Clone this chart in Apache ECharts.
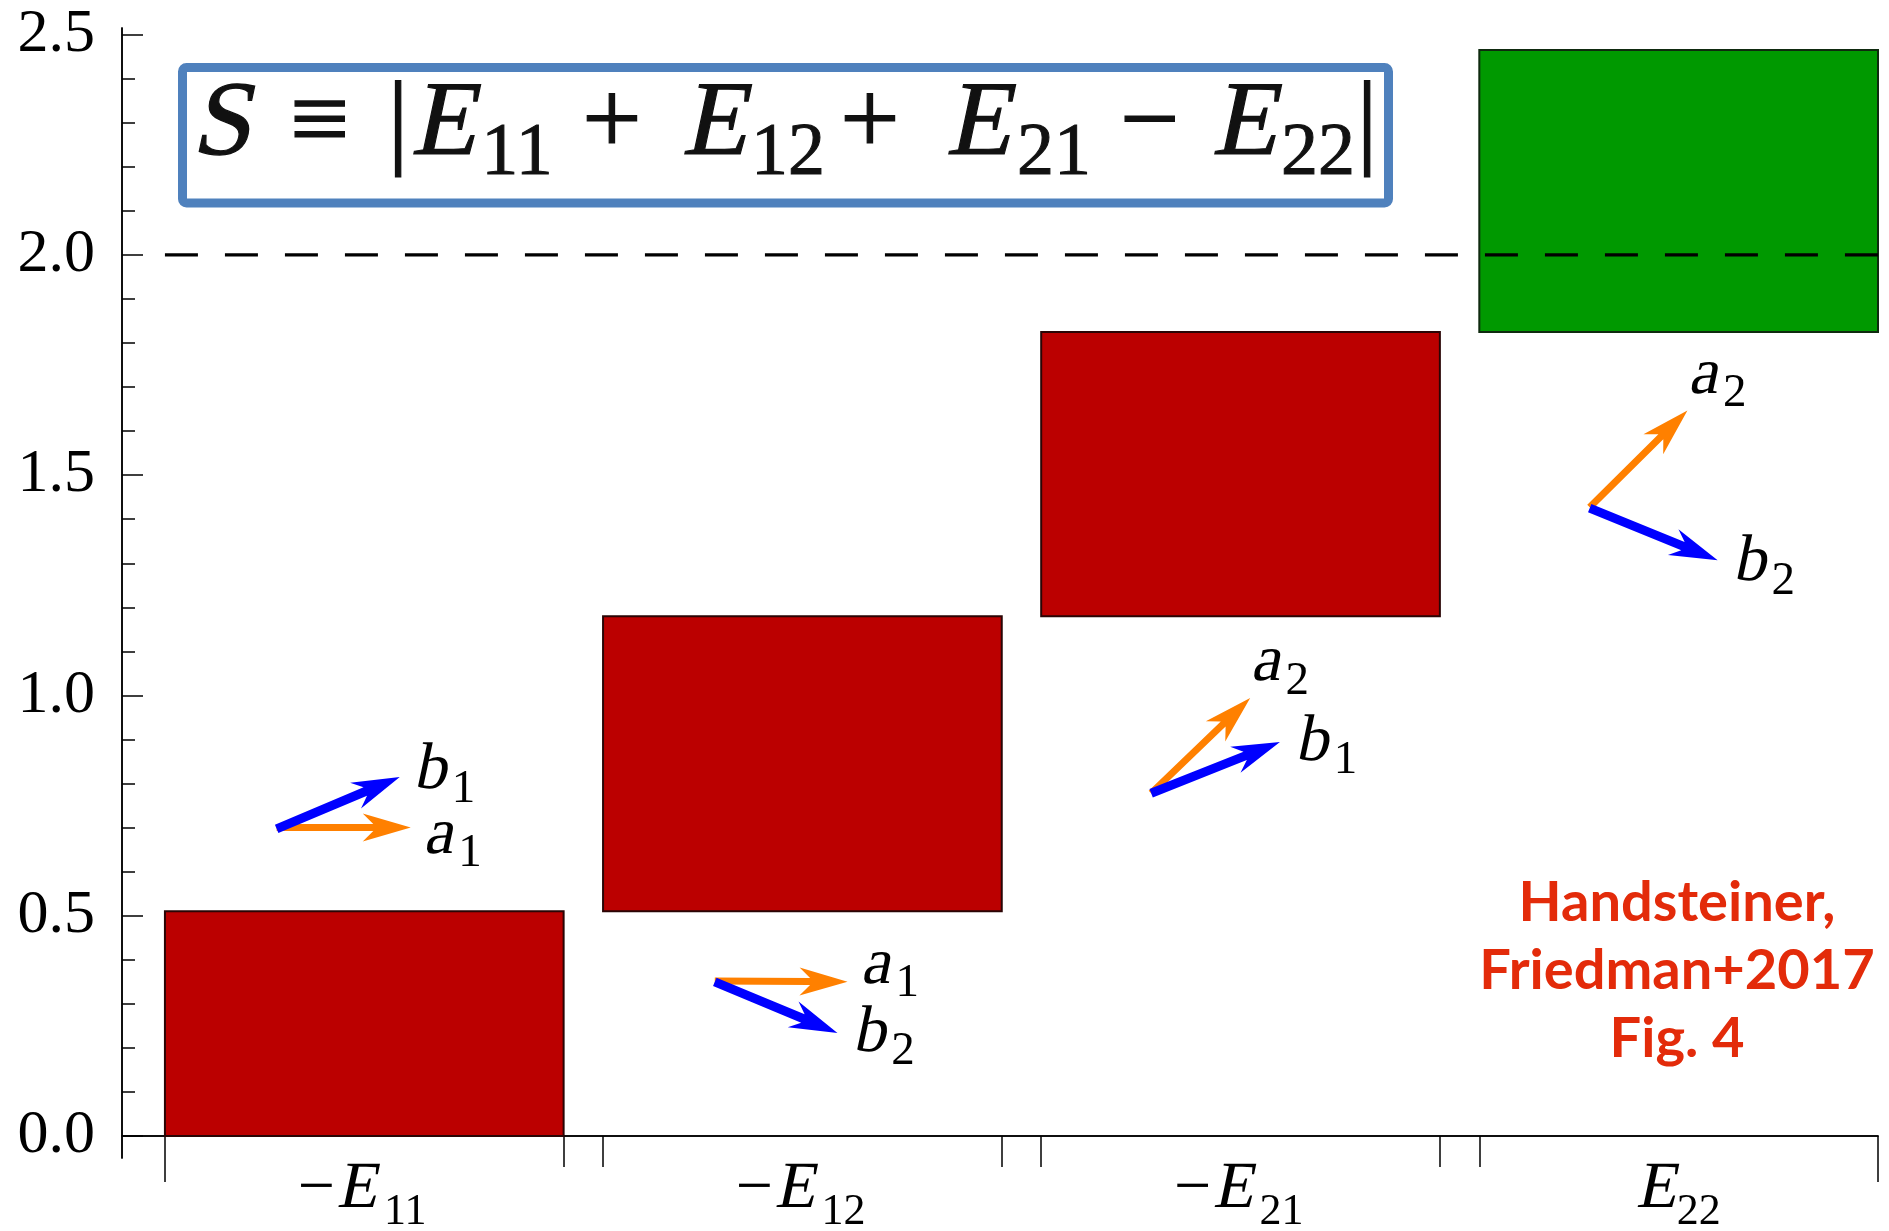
<!DOCTYPE html>
<html>
<head>
<meta charset="utf-8">
<script src="https://cdn.jsdelivr.net/npm/echarts@6/dist/echarts.min.js"></script>
<style>
  html, body { margin: 0; padding: 0; background: #ffffff; }
  #chart { width: 1889px; height: 1231px; }
</style>
</head>
<body>
<div id="chart"></div>
<script>
// Correlator terms of the CHSH sum, drawn as a cumulative (waterfall) bar chart
const categorySign  = ['−', '−', '−', ''];
const categoryIndex = ['11', '12', '21', '22'];
const barLow  = [0.00, 0.51, 1.18, 1.825];
const barHigh = [0.51, 1.18, 1.825, 2.465];

// Local-realist bound on S
const classicalBound = 2.0;

// Value-axis ticks
const yMajorTicks = [0, 0.5, 1.0, 1.5, 2.0, 2.5];
const yMinorTicks = [0, 0.1, 0.2, 0.3, 0.4, 0.5, 0.6, 0.7, 0.8, 0.9, 1.0, 1.1, 1.2, 1.3, 1.4,
                     1.5, 1.6, 1.7, 1.8, 1.9, 2.0, 2.1, 2.2, 2.3, 2.4, 2.5];

// Measurement-setting vectors for each term, in axis units: start and tip
const arrowName = ['a1', 'b1', 'a1', 'b2', 'a2', 'b1', 'a2', 'b2'];
const arrowFrom = [[-0.20, 0.700], [-0.20, 0.697], [0.80, 0.352], [0.80, 0.350],
                   [1.796, 0.778], [1.796, 0.778], [2.797, 1.427], [2.797, 1.425]];
const arrowTo   = [[0.106, 0.700], [0.081, 0.815], [1.103, 0.350], [1.080, 0.234],
                   [2.022, 0.994], [2.090, 0.894], [3.020, 1.647], [3.089, 1.307]];

// Vector name labels (left edge, baseline), in axis units
const vecLabelName = ['b1', 'a1', 'a1', 'b2', 'a2', 'b1', 'a2', 'b2'];
const vecLabelAt   = [[0.120, 0.778], [0.143, 0.631], [1.141, 0.336], [1.123, 0.182],
                      [2.031, 1.023], [2.133, 0.842], [3.030, 1.675], [3.132, 1.250]];

// ---- layout ----
const barHalf = 0.455;
const xMin = -0.553, xMax = 3.455;
const yMin = -0.05, yMax = 2.515;

const serif = 'Liberation Serif, DejaVu Serif';
const slant = -0.21;   // shear used for the italic symbols

// canvas 'middle' sits (ascent - descent) / 2 above the alphabetic baseline
const measureCtx = document.createElement('canvas').getContext('2d');
function fontStr(size) { return size + 'px ' + serif; }
function midToBaseline(size) {
  measureCtx.font = fontStr(size);
  const m = measureCtx.measureText('E');
  if (m.fontBoundingBoxAscent !== undefined) {
    return (m.fontBoundingBoxAscent - m.fontBoundingBoxDescent) / 2;
  }
  return 0.3375 * size;
}
function textWidth(t, size) {
  measureCtx.font = fontStr(size);
  return measureCtx.measureText(t).width;
}
// one plain text piece whose alphabetic baseline sits at y; italic symbols are sheared
function piece(t, x, baseline, size, italic, align, fill, weight) {
  const el = {
    type: 'text', x: x, y: baseline - midToBaseline(size),
    style: {
      text: t, fontFamily: serif, fontSize: size,
      fill: fill || '#000', align: align || 'center', verticalAlign: 'middle'
    }
  };
  if (weight) { el.style.stroke = fill || '#000'; el.style.lineWidth = weight; }
  if (italic) el.skewX = slant;
  return el;
}

const barEdges = [];
barLow.forEach((v, i) => { barEdges.push(i - barHalf, i + barHalf); });
const innerEdges = barEdges.slice(1, -1);
const outerEdges = [barEdges[0], barEdges[barEdges.length - 1]];

// formula  S ≡ |E11 + E12 + E21 − E22|  : glyph centres along the line
const formulaBase = 162, formulaSubDrop = 18, formulaSize = 106, formulaSubSize = 74;
const formulaRuns = [
  { t: 'S', c: 227, it: true }, { t: '≡', c: 320 }, { t: '|', c: 398 },
  { t: 'E', c: 449, it: true }, { t: '11', c: 517, sub: true }, { t: '+', c: 612 },
  { t: 'E', c: 720, it: true }, { t: '12', c: 788, sub: true }, { t: '+', c: 870 },
  { t: 'E', c: 984, it: true }, { t: '21', c: 1054, sub: true }, { t: '−', c: 1150 },
  { t: 'E', c: 1250, it: true }, { t: '22', c: 1318, sub: true }, { t: '|', c: 1367 }
];
const formulaPieces = formulaRuns.map(r => {
  const el = r.sub
    ? piece(r.t, r.c, formulaBase + formulaSubDrop, formulaSubSize, false, 'center', '#111', 1)
    : piece(r.t, r.c, formulaBase, formulaSize, !!r.it, 'center', '#111', 1.2);
  el.z = 11;
  return el;
});

const chart = echarts.init(document.getElementById('chart'), null, { renderer: 'canvas' });

const axisLineStyle = { color: '#000', width: 1.5 };

const option = {
  animation: false,
  backgroundColor: '#ffffff',
  grid: { left: 122, right: 11, top: 28, bottom: 73, containLabel: false, outerBoundsMode: 'none' },
  xAxis: [
    {
      type: 'value', min: xMin, max: xMax, position: 'bottom',
      axisLine: { onZero: true, lineStyle: axisLineStyle },
      axisTick: { show: true, customValues: innerEdges, length: 31, lineStyle: axisLineStyle },
      splitLine: { show: false },
      axisLabel: { show: false }
    },
    {
      type: 'value', min: xMin, max: xMax, position: 'bottom',
      axisLine: { onZero: true, lineStyle: axisLineStyle },
      axisTick: { show: true, customValues: outerEdges, length: 46, lineStyle: axisLineStyle },
      splitLine: { show: false },
      axisLabel: { show: false }
    }
  ],
  yAxis: [
    {
      type: 'value', min: yMin, max: yMax, position: 'left',
      axisLine: { show: true, onZero: false, lineStyle: axisLineStyle },
      axisTick: { show: true, inside: true, customValues: yMajorTicks, length: 21, lineStyle: axisLineStyle },
      splitLine: { show: false },
      axisLabel: {
        customValues: yMajorTicks,
        formatter: v => v.toFixed(1),
        fontFamily: serif, fontSize: 62, color: '#000', margin: 27
      }
    },
    {
      type: 'value', min: yMin, max: yMax, position: 'left',
      axisLine: { show: true, onZero: false, lineStyle: axisLineStyle },
      axisTick: { show: true, inside: true, customValues: yMinorTicks, length: 13, lineStyle: axisLineStyle },
      splitLine: { show: false },
      axisLabel: { show: false }
    }
  ],
  graphic: [
    {
      type: 'rect', z: 10,
      shape: { x: 182.5, y: 67.5, width: 1206, height: 135.5, r: 4 },
      style: { fill: '#ffffff', stroke: '#4F81BD', lineWidth: 9 }
    }
  ].concat(formulaPieces).concat([
    {
      type: 'text', z: 11, x: 1677, y: 869,
      style: {
        text: 'Handsteiner,\nFriedman+2017\nFig. 4',
        fontFamily: 'Lato', fontWeight: 'bold', fontSize: 56,
        fill: '#E32B0A', align: 'center', verticalAlign: 'top', lineHeight: 68
      }
    }
  ]),
  series: [
    {
      type: 'custom', name: 'terms', z: 2, xAxisIndex: 0, yAxisIndex: 0,
      data: barLow.map((lo, i) => [i, lo, barHigh[i]]),
      renderItem: (params, api) => {
        const i = api.value(0);
        const tl = api.coord([i - barHalf, api.value(2)]);
        const br = api.coord([i + barHalf, api.value(1)]);
        const last = i === barLow.length - 1;
        return {
          type: 'rect',
          shape: { x: tl[0], y: tl[1], width: br[0] - tl[0], height: br[1] - tl[1] },
          style: {
            fill: last ? '#009900' : '#BB0000',
            stroke: last ? '#0f2a0f' : '#2a0505',
            lineWidth: 2
          }
        };
      }
    },
    {
      // term names under the axis, one per bar
      type: 'custom', name: 'termNames', z: 5, xAxisIndex: 0, yAxisIndex: 0, clip: false,
      data: categoryIndex.map((c, i) => [i, 0]),
      renderItem: (params, api) => {
        const i = api.value(0);
        const p = api.coord([i, api.value(1)]);
        const base = p[1] + 76;
        const children = [];
        if (categorySign[i]) {
          children.push(piece(categorySign[i], p[0] - 48, base, 66, false));
          children.push(piece('E', p[0] - 4, base, 66, true));
          children.push(piece(categoryIndex[i], p[0] + 41, base + 15, 44, false));
        } else {
          children.push(piece('E', p[0] - 19, base, 66, true));
          children.push(piece(categoryIndex[i], p[0] + 20, base + 15, 44, false));
        }
        return { type: 'group', children: children };
      }
    },
    {
      type: 'line', name: 'bound', z: 3, xAxisIndex: 0, yAxisIndex: 0,
      data: [[-barHalf, classicalBound], [xMax, classicalBound]],
      showSymbol: false, silent: true,
      lineStyle: { color: '#000', width: 3.3, type: [33, 27] }
    },
    {
      type: 'custom', name: 'settings', z: 4, xAxisIndex: 0, yAxisIndex: 0,
      data: arrowName.map((n, k) => [arrowFrom[k][0], arrowFrom[k][1], arrowTo[k][0], arrowTo[k][1], n]),
      renderItem: (params, api) => {
        const p0 = api.coord([api.value(0), api.value(1)]);
        const p1 = api.coord([api.value(2), api.value(3)]);
        const isA = String(api.value(4)).charAt(0) === 'a';
        const dx = p1[0] - p0[0], dy = p1[1] - p0[1];
        const len = Math.hypot(dx, dy);
        const ux = dx / len, uy = dy / len;
        const px = -uy, py = ux;
        const L = 48, W = 28, notch = 0.78 * L;
        const w = isA ? 7 : 9;
        const nx = p1[0] - ux * notch, ny = p1[1] - uy * notch;
        const bx = p1[0] - ux * L, by = p1[1] - uy * L;
        const pts = [
          [p0[0] + px * w / 2, p0[1] + py * w / 2],
          [nx + px * w / 2, ny + py * w / 2],
          [bx + px * W / 2, by + py * W / 2],
          [p1[0], p1[1]],
          [bx - px * W / 2, by - py * W / 2],
          [nx - px * w / 2, ny - py * w / 2],
          [p0[0] - px * w / 2, p0[1] - py * w / 2]
        ];
        return { type: 'polygon', shape: { points: pts }, style: { fill: isA ? '#FF8000' : '#0000FF' } };
      }
    },
    {
      type: 'custom', name: 'settingNames', z: 5, xAxisIndex: 0, yAxisIndex: 0,
      data: vecLabelName.map((n, k) => [vecLabelAt[k][0], vecLabelAt[k][1], n]),
      renderItem: (params, api) => {
        const p = api.coord([api.value(0), api.value(1)]);
        const name = String(api.value(2));
        const letter = name.charAt(0), idx = name.slice(1);
        const adv = textWidth(letter, 66);
        return {
          type: 'group',
          children: [
            piece(letter, p[0], p[1], 66, true, 'left'),
            piece(idx, p[0] + adv + 2, p[1] + 12, 47, false, 'left')
          ]
        };
      }
    }
  ]
};

chart.setOption(option);
</script>
</body>
</html>
